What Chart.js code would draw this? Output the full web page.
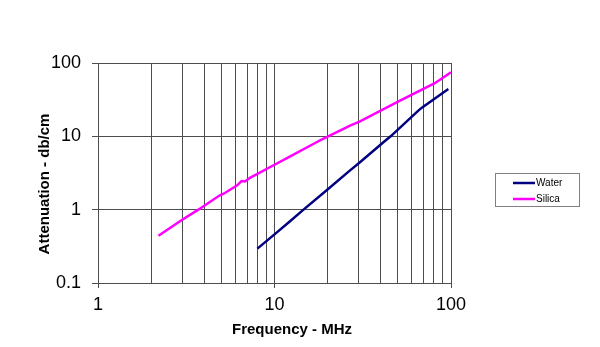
<!DOCTYPE html>
<html>
<head>
<meta charset="utf-8">
<title>Attenuation vs Frequency</title>
<script src="https://cdn.jsdelivr.net/npm/chart.js@4.4.1/dist/chart.umd.min.js"></script>
<style>
  html, body { margin: 0; padding: 0; background: #fff; }
  #wrap { width: 600px; height: 347px; position: relative; }
</style>
</head>
<body>
<div id="wrap"><canvas id="attChart"></canvas></div>
<script>
// measured attenuation (db/cm) against frequency (MHz)
const waterFreq  = [8.0, 10, 12.2, 14.6, 19.9, 26.8, 30.5, 41.4, 45.5, 65.3, 68.4, 96.6];
const waterAtten = [0.294, 0.46, 0.69, 1.0, 1.87, 3.43, 4.44, 8.3, 10, 22.4, 24.6, 44.3];

const silicaFreq  = [2.2, 3.0, 3.7, 4.9, 5.15, 6.15, 6.5, 6.8, 7.26, 10, 12.2, 17.3, 18.1, 20, 26.8, 30.5, 51.4, 72.5, 81, 100];
const silicaAtten = [0.44, 0.73, 1.0, 1.57, 1.65, 2.15, 2.45, 2.42, 2.72, 4.1, 5.3, 8.3, 8.8, 9.9, 14.0, 16.0, 30.7, 46.6, 53, 75];

const xTicks = [1, 2, 3, 4, 5, 6, 7, 8, 9, 10, 20, 30, 40, 50, 60, 70, 80, 90, 100];
const yTicks = [0.1, 1, 10, 100];

const seriesNames  = ['Water', 'Silica'];
const seriesColors = ['#000080', '#ff00ff'];

const toPoints = (xs, ys) => xs.map((x, i) => ({ x: x, y: ys[i] }));
const isDecade = v => Math.abs(Math.log10(v) - Math.round(Math.log10(v))) < 1e-9;

const FONT = 'Arial, "Liberation Sans", sans-serif';

// axis titles and the boxed legend on the right
const extras = {
    id: 'extras',
    afterDraw(chart) {
        const ctx = chart.ctx;
        ctx.save();
        ctx.fillStyle = '#000';
        ctx.font = 'bold 15px ' + FONT;
        ctx.textAlign = 'center';
        ctx.textBaseline = 'middle';
        ctx.fillText('Frequency - MHz', 292, 330);

        ctx.translate(45, 184);
        ctx.rotate(-Math.PI / 2);
        ctx.fillText('Attenuation - db/cm', 0, 0);
        ctx.restore();

        // legend
        ctx.save();
        ctx.strokeStyle = '#808080';
        ctx.lineWidth = 1;
        ctx.strokeRect(495.5, 173.5, 84, 33);
        ctx.font = '10px ' + FONT;
        ctx.textAlign = 'left';
        ctx.textBaseline = 'middle';
        chart.data.datasets.forEach((ds, i) => {
            const y = 183 + i * 16;
            ctx.strokeStyle = ds.borderColor;
            ctx.lineWidth = 2.5;
            ctx.beginPath();
            ctx.moveTo(513, y);
            ctx.lineTo(535, y);
            ctx.stroke();
            ctx.fillStyle = '#000';
            ctx.fillText(ds.label, 536, y);
        });
        ctx.restore();
    }
};

const ctx = document.getElementById('attChart').getContext('2d');
new Chart(ctx, {
    type: 'line',
    data: {
        datasets: [
            {
                label: seriesNames[0],
                data: toPoints(waterFreq, waterAtten),
                borderColor: seriesColors[0],
                backgroundColor: seriesColors[0],
                borderWidth: 2.5,
                pointRadius: 0,
                tension: 0
            },
            {
                label: seriesNames[1],
                data: toPoints(silicaFreq, silicaAtten),
                borderColor: seriesColors[1],
                backgroundColor: seriesColors[1],
                borderWidth: 2.5,
                pointRadius: 0,
                tension: 0
            }
        ]
    },
    options: {
        responsive: true,
        maintainAspectRatio: false,
        animation: false,
        layout: { padding: { left: 0, right: 149, top: 63, bottom: 0 } },
        plugins: {
            legend: { display: false },
            tooltip: { enabled: false }
        },
        scales: {
            x: {
                type: 'logarithmic',
                min: 1,
                max: 100,
                afterBuildTicks: scale => { scale.ticks = xTicks.map(v => ({ value: v })); },
                afterFit: scale => { scale.height = 64; },
                ticks: {
                    autoSkip: false,
                    maxRotation: 0,
                    padding: 6,
                    color: '#000',
                    font: { family: FONT, size: 18 },
                    callback: v => isDecade(v) ? String(v) : ''
                },
                grid: {
                    color: '#4d4d4d',
                    lineWidth: 1,
                    tickLength: 5,
                    tickColor: c => (c.tick && isDecade(c.tick.value)) ? '#4d4d4d' : 'rgba(0,0,0,0)'
                },
                border: { color: '#4d4d4d' }
            },
            y: {
                type: 'logarithmic',
                min: 0.1,
                max: 100,
                afterBuildTicks: scale => { scale.ticks = yTicks.map(v => ({ value: v })); },
                afterFit: scale => { scale.width = 98; },
                ticks: {
                    padding: 11,
                    color: '#000',
                    font: { family: FONT, size: 18 },
                    callback: v => String(v)
                },
                grid: {
                    color: '#4d4d4d',
                    lineWidth: 1,
                    tickLength: 6
                },
                border: { color: '#4d4d4d' }
            }
        }
    },
    plugins: [extras]
});
</script>
</body>
</html>
